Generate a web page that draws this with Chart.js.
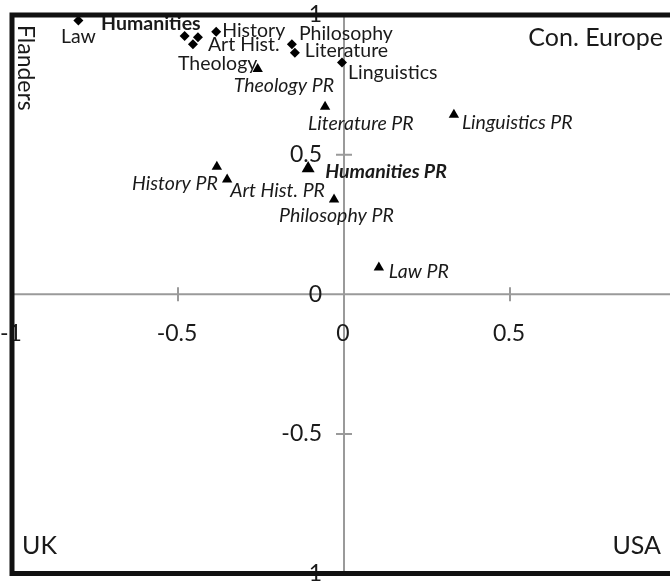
<!DOCTYPE html>
<html>
<head>
<meta charset="utf-8">
<script src="https://cdn.jsdelivr.net/npm/chart.js@4"></script>
<style>
html,body{margin:0;padding:0;background:#fff;overflow:hidden;}
#wrap{width:690px;height:581px;position:relative;}
</style>
</head>
<body>
<div id="wrap"><canvas id="c"></canvas></div>
<script>
// ---- data ----
const regionLabels = ['Law','Humanities','History','Art Hist.','Theology','Philosophy','Literature','Linguistics'];
const regionX = [-0.80, -0.48, -0.385, -0.44, -0.455, -0.157, -0.148, -0.006];
const regionY = [0.98, 0.925, 0.94, 0.92, 0.895, 0.895, 0.865, 0.83];

const prLabels = ['Theology PR','Literature PR','Linguistics PR','History PR','Art Hist. PR','Humanities PR','Philosophy PR','Law PR'];
const prX = [-0.26, -0.057, 0.331, -0.383, -0.352, -0.108, -0.03, 0.105];
const prY = [0.807, 0.671, 0.643, 0.457, 0.411, 0.45, 0.339, 0.096];

const xTicks = [-1, -0.5, 0, 0.5, 1];
const yTicks = [1, 0.5, 0, -0.5, -1];
const xTickLabels = ['-1', '-0.5', '0', '0.5', '1'];
const yTickLabels = ['1', '0.5', '0', '-0.5', '-1'];

const cornerNames = ['Con. Europe', 'UK', 'USA', 'Flanders'];

// ---- label placement (pixels relative to marker) ----
const regionLabelPos = [
  [0, 16, 'center'], [16, -12, 'right'], [6, -1, 'left'], [10, 7, 'left'],
  [-15, 19, 'left'], [7, -11, 'left'], [10, -2, 'left'], [6, 10, 'left']
];
const prLabelPos = [
  [-24, 17, 'left'], [-17, 17, 'left'], [8, 8, 'left'], [1, 17, 'right'],
  [3, 11, 'left'], [17, 3, 'left'], [-55, 16, 'left'], [10, 4, 'left']
];

const FONT = 'Lato, "Open Sans", sans-serif';
const AXIS_COLOR = '#9a9a9a';
const TEXT_COLOR = '#1a1a1a';

const regionData = regionX.map((x, i) => ({x, y: regionY[i]}));
const prData = prX.map((x, i) => ({x, y: prY[i]}));

const decorPlugin = {
  id: 'decor',
  beforeDatasetsDraw(chart) {
    const ctx = chart.ctx;
    const xs = chart.scales.x, ys = chart.scales.y;
    const x0 = xs.getPixelForValue(0), y0 = ys.getPixelForValue(0);
    const a = chart.chartArea;
    ctx.save();
    ctx.strokeStyle = AXIS_COLOR;
    ctx.lineWidth = 2;
    ctx.beginPath();
    ctx.moveTo(a.left, y0); ctx.lineTo(a.right, y0);
    ctx.moveTo(x0, a.top); ctx.lineTo(x0, a.bottom);
    xTicks.forEach(v => {
      if (v === 0) return;
      const px = xs.getPixelForValue(v);
      ctx.moveTo(px, y0 - 7); ctx.lineTo(px, y0 + 7);
    });
    yTicks.forEach(v => {
      if (v === 0) return;
      const py = ys.getPixelForValue(v);
      ctx.moveTo(x0 - 8, py); ctx.lineTo(x0 + 8, py);
    });
    ctx.stroke();
    ctx.fillStyle = TEXT_COLOR;
    ctx.font = '23px ' + FONT;
    ctx.textAlign = 'center';
    ctx.textBaseline = 'middle';
    xTicks.forEach((v, i) => {
      ctx.fillText(xTickLabels[i], xs.getPixelForValue(v) - 1, y0 + 39);
    });
    ctx.textAlign = 'right';
    yTicks.forEach((v, i) => {
      ctx.fillText(yTickLabels[i], x0 - 22, ys.getPixelForValue(v));
    });
    ctx.restore();
  },
  afterDatasetsDraw(chart) {
    const ctx = chart.ctx;
    const a = chart.chartArea;
    ctx.save();
    ctx.fillStyle = TEXT_COLOR;
    ctx.textBaseline = 'middle';
    const m0 = chart.getDatasetMeta(0), m1 = chart.getDatasetMeta(1);
    regionLabels.forEach((t, i) => {
      const p = m0.data[i], o = regionLabelPos[i];
      ctx.font = (t === 'Humanities' ? 'bold ' : '') + '19.5px ' + FONT;
      ctx.textAlign = o[2];
      ctx.fillText(t, p.x + o[0], p.y + o[1]);
    });
    prLabels.forEach((t, i) => {
      const p = m1.data[i], o = prLabelPos[i];
      ctx.font = 'italic ' + (t === 'Humanities PR' ? 'bold ' : '') + '19.5px ' + FONT;
      ctx.textAlign = o[2];
      ctx.fillText(t, p.x + o[0], p.y + o[1]);
    });
    ctx.font = '25px ' + FONT;
    ctx.textAlign = 'right';
    ctx.fillText(cornerNames[0], a.left + 651, a.top + 23);
    ctx.textAlign = 'left';
    ctx.fillText(cornerNames[1], a.left + 10, a.bottom - 28);
    ctx.textAlign = 'right';
    ctx.fillText(cornerNames[2], a.left + 649, a.bottom - 28);
    ctx.save();
    ctx.translate(a.left + 13, a.top + 10);
    ctx.rotate(Math.PI / 2);
    ctx.textAlign = 'left';
    ctx.font = '23px ' + FONT;
    ctx.fillText(cornerNames[3], 0, 0);
    ctx.restore();
    ctx.strokeStyle = '#111';
    ctx.lineWidth = 5;
    ctx.strokeRect(a.left, a.top, a.right - a.left, a.bottom - a.top);
    ctx.restore();
  }
};

new Chart(document.getElementById('c'), {
  type: 'scatter',
  data: {
    datasets: [
      {
        label: 'Regions',
        data: regionData,
        pointStyle: 'rectRot',
        pointRadius: 5,
        pointHoverRadius: 5,
        backgroundColor: '#000',
        borderColor: '#000',
        borderWidth: 0
      },
      {
        label: 'PR',
        data: prData,
        pointStyle: 'triangle',
        pointRadius: prLabels.map(t => t === 'Humanities PR' ? 7.5 : 6),
        pointHoverRadius: 6,
        backgroundColor: '#000',
        borderColor: '#000',
        borderWidth: 0
      }
    ]
  },
  options: {
    responsive: true,
    maintainAspectRatio: false,
    animation: false,
    layout: { padding: { left: 12, top: 15, right: 14, bottom: 6 } },
    plugins: { legend: { display: false }, tooltip: { enabled: false } },
    scales: {
      x: { type: 'linear', min: -1, max: 1, display: false },
      y: { type: 'linear', min: -1, max: 1, display: false }
    },
    events: []
  },
  plugins: [decorPlugin]
});
</script>
</body>
</html>
